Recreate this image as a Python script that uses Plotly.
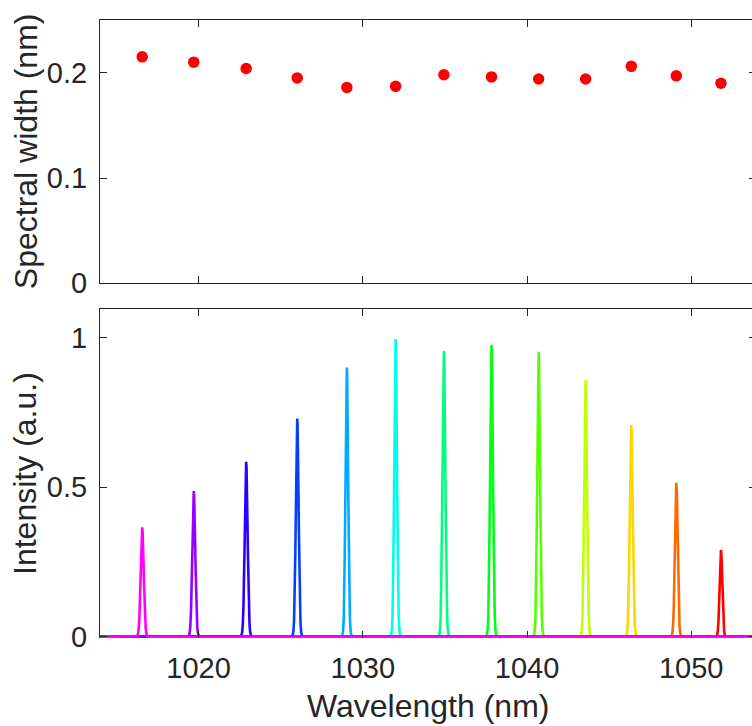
import plotly.graph_objects as go

# ---- data ----
center_nm = [1016.57, 1019.71, 1022.90, 1026.01, 1029.03, 1032.00, 1034.94,
             1037.84, 1040.71, 1043.57, 1046.35, 1049.09, 1051.81]
spectral_width_nm = [0.215, 0.210, 0.204, 0.195, 0.186, 0.187, 0.198,
                     0.196, 0.194, 0.194, 0.206, 0.197, 0.190]
peak_intensity = [0.366, 0.487, 0.585, 0.730, 0.900, 0.996, 0.956,
                  0.976, 0.953, 0.859, 0.708, 0.515, 0.290]
peak_colors = ["#ff00ff", "#9500ff", "#2b00ff", "#0040ff", "#00aaff", "#00ffea",
               "#00ff80", "#00ff15", "#55ff00", "#bfff00", "#ffd500", "#ff6a00",
               "#ff0000"]
# line-shape of one peak, offsets in units of its spectral width (FWHM)
profile_offset = [-2.0, -1.5, -1.2, -1.0, -0.8, -0.6, -0.5, -0.4, -0.3, -0.2, -0.1, 0.0,
                  0.1, 0.2, 0.3, 0.4, 0.5, 0.6, 0.8, 1.0, 1.2, 1.5, 2.0]
profile_rel = [0.0, 0.004, 0.025, 0.07, 0.18, 0.38, 0.5, 0.64, 0.78, 0.9, 0.97, 1.0,
               0.97, 0.9, 0.78, 0.64, 0.5, 0.38, 0.18, 0.07, 0.025, 0.004, 0.0]

x_ticks = [1020, 1030, 1040, 1050]
x_range = [1014, 1053.7]
top_y_range = [0, 0.25]
top_y_ticks = [0, 0.1, 0.2]
top_y_labels = ["0", "0.1", "0.2"]
bot_y_range = [-0.0043, 1.0964]
bot_y_ticks = [0, 0.5, 1]
bot_y_labels = ["0", "0.5", "1"]
x_title = "Wavelength (nm)"
top_y_title = "Spectral width (nm)"
bot_y_title = "Intensity (a.u.)"

AX = "#262626"
FONT = "Liberation Sans, Arial, Helvetica, sans-serif"
TICK_SIZE = 29
TITLE_SIZE = 32

fig = go.Figure()

# top panel: spectral width
fig.add_trace(go.Scatter(x=center_nm, y=spectral_width_nm, mode="markers",
                         marker=dict(color="#ff0000", size=11.5), xaxis="x", yaxis="y",
                         showlegend=False, hoverinfo="skip"))
fig.add_trace(go.Scatter(x=center_nm, y=spectral_width_nm, mode="markers",
                         marker=dict(color="rgba(0,0,0,0)", size=1), xaxis="x", yaxis="y3",
                         showlegend=False, hoverinfo="skip"))

# bottom panel: spectra (red first, magenta last so its baseline is on top)
for i in reversed(range(len(center_nm))):
    c = center_nm[i]
    w = spectral_width_nm[i]
    h = peak_intensity[i]
    xs = [x_range[0]] + [c + o * w for o in profile_offset] + [x_range[1]]
    ys = [0.0] + [h * r for r in profile_rel] + [0.0]
    fig.add_trace(go.Scatter(x=xs, y=ys, mode="lines",
                             line=dict(color=peak_colors[i], width=2.6),
                             xaxis="x2", yaxis="y2", showlegend=False, hoverinfo="skip"))
fig.add_trace(go.Scatter(x=center_nm, y=peak_intensity, mode="markers",
                         marker=dict(color="rgba(0,0,0,0)", size=1), xaxis="x3", yaxis="y4",
                         showlegend=False, hoverinfo="skip"))

tick_common = dict(ticks="inside", ticklen=7, tickwidth=1, tickcolor=AX,
                   showgrid=False, zeroline=False)
common_y = dict(**tick_common, showline=True, linecolor=AX, linewidth=1,
                ticklabelstandoff=6,
                tickfont=dict(size=TICK_SIZE, color=AX, family=FONT))
right_y = dict(ticks="inside", ticklen=3, tickwidth=1, tickcolor=AX, showline=False,
               showgrid=False, zeroline=False, showticklabels=False, side="right")
title_font = dict(size=TITLE_SIZE, color=AX, family=FONT)

fig.update_layout(
    width=752, height=726,
    margin=dict(l=100, r=0, t=20, b=88),
    paper_bgcolor="white", plot_bgcolor="white",
    font=dict(family=FONT, color=AX),
    # top panel
    xaxis=dict(**tick_common, range=x_range, tickvals=x_ticks, showline=True, linecolor=AX,
               linewidth=1, mirror="ticks", domain=[0, 1], anchor="y", showticklabels=False),
    yaxis=dict(**common_y, domain=[0.5739, 1.0], anchor="x", range=top_y_range,
               tickvals=top_y_ticks, ticktext=top_y_labels),
    yaxis3=dict(**right_y, overlaying="y", anchor="x", range=top_y_range, tickvals=top_y_ticks),
    # bottom panel
    xaxis2=dict(**tick_common, range=x_range, tickvals=x_ticks, showline=False,
                domain=[0, 1], anchor="y2",
                tickfont=dict(size=TICK_SIZE, color=AX, family=FONT),
                ticklabelstandoff=10),
    xaxis3=dict(**tick_common, range=x_range, tickvals=x_ticks, showline=True, linecolor=AX,
                linewidth=1, overlaying="x2", side="top", anchor="y2", showticklabels=False),
    yaxis2=dict(**common_y, domain=[0, 0.5325], anchor="x2", range=bot_y_range,
                tickvals=bot_y_ticks, ticktext=bot_y_labels),
    yaxis4=dict(**right_y, overlaying="y2", anchor="x3", range=bot_y_range, tickvals=bot_y_ticks),
    annotations=[
        dict(text=top_y_title, textangle=-90, xref="paper", x=-74.5 / 652, xanchor="center",
             yref="y domain", y=0.5, yanchor="middle", showarrow=False, font=title_font),
        dict(text=bot_y_title, textangle=-90, xref="paper", x=-74.5 / 652, xanchor="center",
             yref="y2 domain", y=0.5, yanchor="middle", showarrow=False, font=title_font),
        dict(text=x_title, xref="paper", x=0.503, xanchor="center",
             yref="paper", y=-67.5 / 618, yanchor="middle", showarrow=False, font=title_font),
    ],
)

fig.write_html("out.html")
